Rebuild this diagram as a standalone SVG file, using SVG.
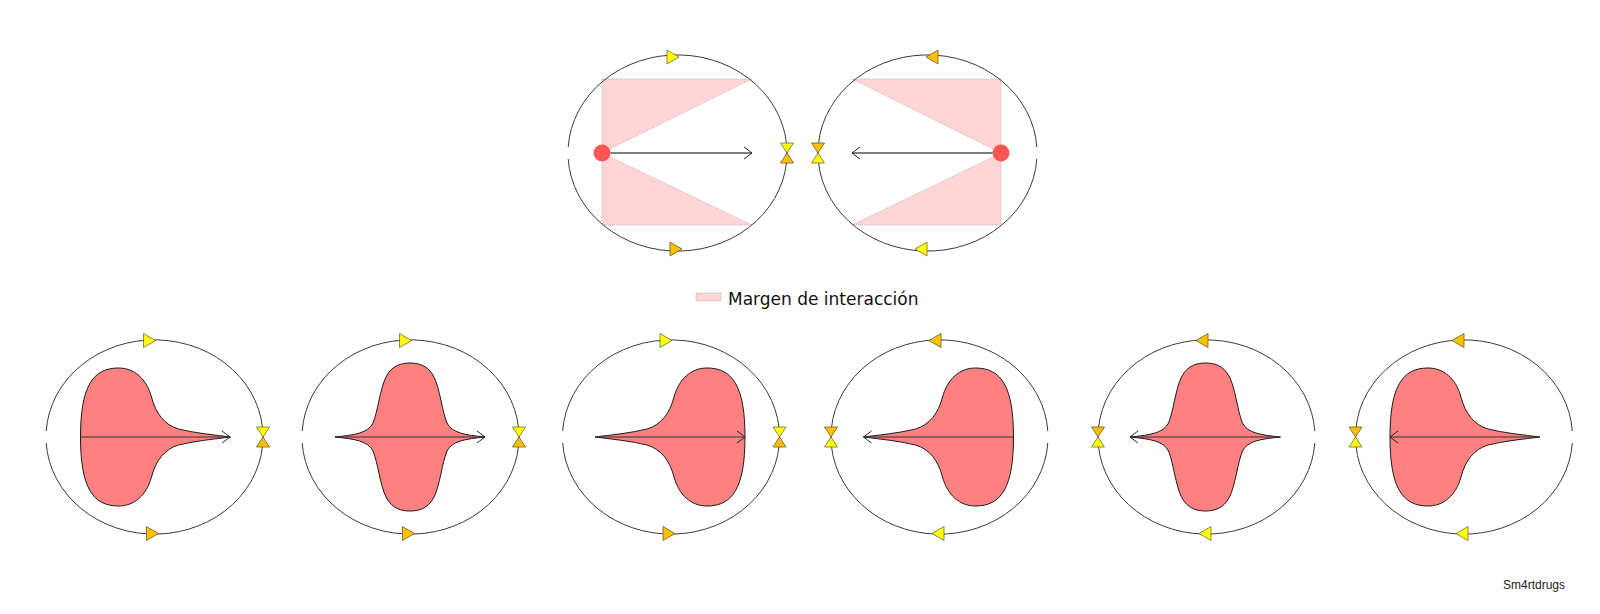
<svg xmlns="http://www.w3.org/2000/svg" xmlns:xlink="http://www.w3.org/1999/xlink" width="1600" height="614" viewBox="0 0 1600 614">
<style>
.orb{fill:none;stroke:#3a3a3a;stroke-width:1}
.y{fill:#FFFF00;stroke:#6b6b4a;stroke-width:0.8}
.o{fill:#FFC000;stroke:#6b5a2a;stroke-width:0.8}
.blob{fill:#FF8080;stroke:#1a1a1a;stroke-width:1}
.ax{stroke:#333;stroke-width:1;fill:none}
.axt{stroke:#000;stroke-width:1.2;fill:none}
.pink{fill:#FFD5D5;stroke:#999;stroke-width:0.6;stroke-dasharray:1 1}
.dot{fill:#FF5555}
.lbl{font-family:"DejaVu Sans",Verdana,sans-serif;font-size:17px;fill:#111}
.sig{font-family:"Liberation Sans",Arial,sans-serif;font-size:12px;fill:#222}
</style>
<defs>
<marker id="chev" viewBox="-10 -8 12 16" markerWidth="12" markerHeight="16" refX="0" refY="0" orient="auto" markerUnits="userSpaceOnUse">
<path d="M-8,-6 L0,0 L-8,6" fill="none" stroke="#222" stroke-width="1"/>
</marker>
<polygon id="tr" points="-6,-7 6,0 -6,7"/>
<polygon id="tl" points="6,-7 -6,0 6,7"/>
<polygon id="hgT" points="-6.5,-10 6.5,-10 0,0"/>
<polygon id="hgB" points="0,0 -6.5,10 6.5,10"/>
<path id="arcL" d="M-108.3,-6 A108.5,97 0 0 1 108.5,0 M-108.3,6 A108.5,97 0 0 0 108.5,0"/>
<path id="arcR" d="M108.3,-6 A108.5,97 0 0 0 -108.5,0 M108.3,6 A108.5,97 0 0 1 -108.5,0"/>
<path id="fish" d="M-74,0 C-74,-50 -62,-69 -36,-69 C-20,-69 -8,-58 -3,-40 C1,-24 10,-12 24,-8 C40,-4 60,-2 76,0 C60,2 40,4 24,8 C10,12 1,24 -3,40 C-8,58 -20,69 -36,69 C-62,69 -74,50 -74,0 Z"/>
<path id="bell" d="M-75,0 C-55,-2 -42,-4 -37,-14 C-32,-26 -30,-48 -24,-60 C-18,-72 -8,-74 0,-74 C8,-74 18,-72 24,-60 C30,-48 32,-26 37,-14 C42,-4 55,-2 75,0 C55,2 42,4 37,14 C32,26 30,48 24,60 C18,72 8,74 0,74 C-8,74 -18,72 -24,60 C-30,48 -32,26 -37,14 C-42,4 -55,2 -75,0 Z"/>
</defs>

<!-- top left panel -->
<g id="top-left">
<polygon class="pink" points="602,79 752,79 602,153"/>
<polygon class="pink" points="602,153 602,225 752,225"/>
<path class="orb" d="M568.2,147 A109.5,98 0 0 1 787,153 M568.2,159 A109.5,98 0 0 0 787,153"/>
<use href="#tr" class="y" x="673" y="57"/>
<use href="#tr" class="o" x="676" y="249"/>
<use href="#hgT" class="y" x="787" y="153"/>
<use href="#hgB" class="o" x="787" y="153"/>
<circle class="dot" cx="602" cy="153" r="8.5"/>
</g>

<!-- top right panel -->
<g id="top-right">
<polygon class="pink" points="852,79 1001,79 1001,153"/>
<polygon class="pink" points="1001,153 1001,225 852,225"/>
<path class="orb" d="M1036.8,147 A109.5,98 0 0 0 818,153 M1036.8,159 A109.5,98 0 0 1 818,153"/>
<use href="#tl" class="o" x="932" y="57"/>
<use href="#tl" class="y" x="921" y="249"/>
<use href="#hgT" class="o" x="818" y="153"/>
<use href="#hgB" class="y" x="818" y="153"/>
<circle class="dot" cx="1001" cy="153" r="8.5"/>
</g>

<g id="legend">
<rect class="pink" x="696" y="293" width="25" height="8"/>
<text class="lbl" x="728" y="305">Margen de interacción</text>
</g>

<!-- bottom panels -->
<g id="panel-1" transform="translate(154.5,437)">
<use href="#arcL" class="orb"/>
<use href="#fish" class="blob"/>
<use href="#tr" class="y" x="-5" y="-96.5"/>
<use href="#tr" class="o" x="-2" y="96.5"/>
<use href="#hgT" class="y" x="108.5" y="0"/>
<use href="#hgB" class="o" x="108.5" y="0"/>
</g>
<g id="panel-2" transform="translate(410.5,437)">
<use href="#arcL" class="orb"/>
<use href="#bell" class="blob" x="-0.5"/>
<use href="#tr" class="y" x="-5" y="-96.5"/>
<use href="#tr" class="o" x="-2" y="96.5"/>
<use href="#hgT" class="y" x="108.5" y="0"/>
<use href="#hgB" class="o" x="108.5" y="0"/>
</g>
<g id="panel-3" transform="translate(671,437)">
<use href="#arcL" class="orb"/>
<use href="#fish" class="blob" transform="scale(-1,1)"/>
<use href="#tr" class="y" x="-5" y="-96.5"/>
<use href="#tr" class="o" x="-2" y="96.5"/>
<use href="#hgT" class="y" x="108.5" y="0"/>
<use href="#hgB" class="o" x="108.5" y="0"/>
</g>
<g id="panel-4" transform="translate(939.5,437)">
<use href="#arcR" class="orb"/>
<use href="#fish" class="blob" transform="scale(-1,1)"/>
<use href="#tl" class="o" x="-4.5" y="-96.5"/>
<use href="#tl" class="y" x="-1.5" y="96.5"/>
<use href="#hgT" class="o" x="-108.5" y="0"/>
<use href="#hgB" class="y" x="-108.5" y="0"/>
</g>
<g id="panel-5" transform="translate(1206.5,437)">
<use href="#arcR" class="orb"/>
<use href="#bell" class="blob" x="-1"/>
<use href="#tl" class="o" x="-4.5" y="-96.5"/>
<use href="#tl" class="y" x="-1.5" y="96.5"/>
<use href="#hgT" class="o" x="-108.5" y="0"/>
<use href="#hgB" class="y" x="-108.5" y="0"/>
</g>
<g id="panel-6" transform="translate(1464,437)">
<use href="#arcR" class="orb"/>
<use href="#fish" class="blob"/>
<use href="#tl" class="o" x="-6" y="-96.5"/>
<use href="#tl" class="y" x="-2" y="96.5"/>
<use href="#hgT" class="o" x="-108.5" y="0"/>
<use href="#hgB" class="y" x="-108.5" y="0"/>
</g>

<g id="connectors">
<line class="axt" x1="610.5" y1="153" x2="752" y2="153" marker-end="url(#chev)"/>
<line class="axt" x1="992.5" y1="153" x2="852" y2="153" marker-end="url(#chev)"/>
<line class="ax" x1="80.5" y1="437" x2="230" y2="437" marker-end="url(#chev)"/>
<line class="ax" x1="335" y1="437" x2="485" y2="437" marker-end="url(#chev)"/>
<line class="ax" x1="597" y1="437" x2="745" y2="437" marker-end="url(#chev)"/>
<line class="ax" x1="1013.5" y1="437" x2="863.5" y2="437" marker-end="url(#chev)"/>
<line class="ax" x1="1280" y1="437" x2="1130" y2="437" marker-end="url(#chev)"/>
<line class="ax" x1="1538" y1="437" x2="1390" y2="437" marker-end="url(#chev)"/>
</g>

<text class="sig" x="1503" y="589">Sm4rtdrugs</text>
</svg>
